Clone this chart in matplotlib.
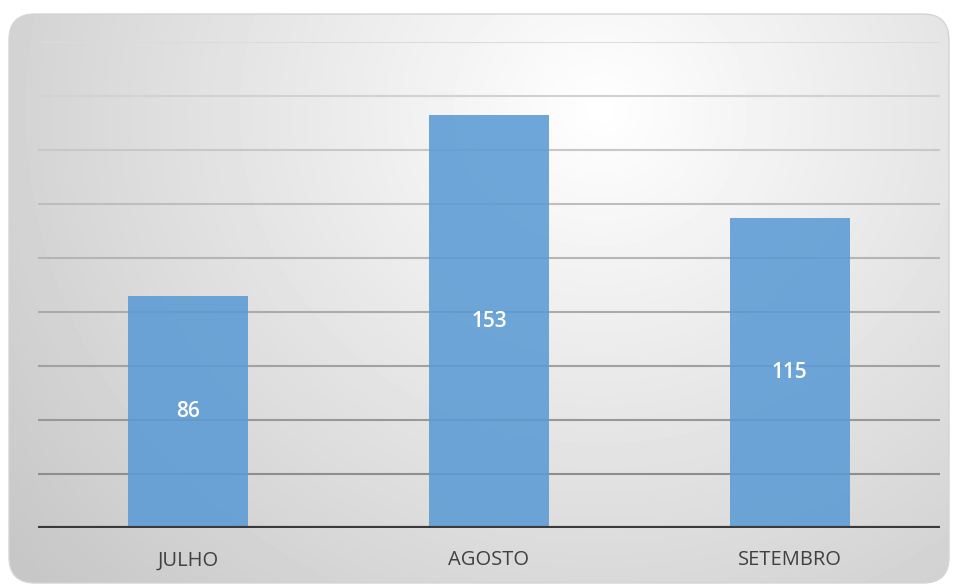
import matplotlib.pyplot as plt
import numpy as np
from matplotlib.patches import FancyBboxPatch

# dados
meses = ['JULHO', 'AGOSTO', 'SETEMBRO']
valores = [86, 153, 115]

W, H = 958, 585
fig = plt.figure(figsize=(W / 100, H / 100), dpi=100)
fig.patch.set_facecolor('white')

# fundo: caixa arredondada com gradiente radial
bg = fig.add_axes([0, 0, 1, 1])
bg.set_xlim(0, W)
bg.set_ylim(H, 0)
bg.axis('off')
yy, xx = np.mgrid[0:H, 0:W]
r = np.sqrt(((xx - 600) / 650) ** 2 + ((yy - 110) / 600) ** 2)
shade = np.clip(1.0 - 0.19 * r, 0.78, 1.0)
img = bg.imshow(shade, cmap='gray', vmin=0, vmax=1, extent=(0, W, H, 0),
                interpolation='bilinear', zorder=0)
box = FancyBboxPatch((9, 14), 940, 569, boxstyle='round,pad=0,rounding_size=26',
                     facecolor='none', edgecolor='#d4d4d4', lw=1.0, zorder=1)
bg.add_patch(box)
img.set_clip_path(box)

# eixo do gráfico
ax = fig.add_axes([38 / W, 1 - 528 / H, (940 - 38) / W, (528 - 42) / H])
ax.patch.set_alpha(0)
x = np.arange(len(meses))
ax.set_xlim(-0.5, 2.5)
ax.set_ylim(0, 180)

# linhas de grade (mais claras em cima)
for g in range(20, 181, 20):
    c = 0.86 - 0.34 * (1 - g / 180)
    ax.axhline(g, color=str(c), lw=1.5, zorder=1)

bars = ax.bar(x, valores, width=0.4, color='#5b9bd5', alpha=0.88, zorder=2)
ax.axhline(0, color='#3a3a3a', lw=3, zorder=3)

for xi, v in zip(x, valores):
    ax.text(xi, v / 2, str(v), ha='center', va='center', color='white',
            fontsize=15, fontweight='semibold', family='Open Sans', zorder=4)

ax.set_xticks(x)
ax.set_xticklabels(meses, fontsize=14.5, color='#404040', family='Open Sans')
ax.tick_params(axis='x', length=0, pad=16)
ax.set_yticks([])
for s in ax.spines.values():
    s.set_visible(False)

fig.savefig('out.png', dpi=100)
